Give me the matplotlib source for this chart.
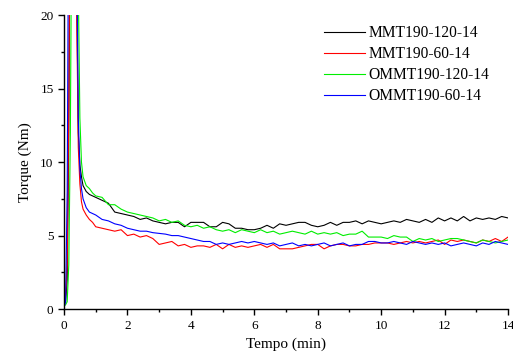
import numpy as np
import matplotlib
matplotlib.use("Agg")
import matplotlib.pyplot as plt
from matplotlib.ticker import MultipleLocator

plt.rcParams['font.family'] = ['Liberation Serif', 'DejaVu Serif']

labels = ["MMT190-120-14", "MMT190-60-14", "OMMT190-120-14", "OMMT190-60-14"]
colors = ["#000000", "#ff0000", "#00ee00", "#0000ff"]

t_early = [0, 0.05, 0.1, 0.15, 0.2, 0.25, 0.3, 0.35, 0.4, 0.45, 0.5, 0.55, 0.6, 0.7, 0.8, 0.9, 1.0]
t_late = list(np.round(np.arange(1.2, 14.01, 0.2), 2))

black_early = [0.3, 0.5, 2, 12, 30, 40, 40, 35, 22, 12, 9.8, 9.0, 8.4, 8.0, 7.8, 7.7, 7.6]
red_early = [0.5, 1, 3, 14, 30, 40, 40, 35, 20, 11, 8.5, 7.3, 6.8, 6.4, 6.1, 5.9, 5.6]
green_early = [0.2, 0.3, 0.5, 3, 12, 30, 40, 40, 35, 22, 13, 10, 9.0, 8.4, 8.2, 7.9, 7.7]
blue_early = [0.1, 0.5, 8, 30, 40, 40, 38, 32, 25, 13, 9.5, 8.2, 7.5, 6.9, 6.6, 6.5, 6.4]

black_late = [7.4, 7.2, 6.6, 6.5, 6.4, 6.3, 6.1, 6.2, 6.0, 5.9, 5.8, 5.9, 5.9, 5.6, 5.9, 5.9, 5.9, 5.6, 5.6, 5.9,
              5.8, 5.5, 5.5, 5.4, 5.4, 5.5, 5.7, 5.5, 5.8, 5.7, 5.8, 5.9, 5.9, 5.7, 5.6, 5.7, 5.9, 5.7, 5.9, 5.9,
              6.0, 5.8, 6.0, 5.9, 5.8, 5.9, 6.0, 5.9, 6.1, 6.0, 5.9, 6.1, 5.9, 6.2, 6.0, 6.2, 6.0, 6.3, 6.0, 6.2,
              6.1, 6.2, 6.1, 6.3, 6.2]
red_late = [5.5, 5.4, 5.3, 5.4, 5.0, 5.1, 4.9, 5.0, 4.8, 4.4, 4.5, 4.6, 4.3, 4.4, 4.2, 4.3, 4.3, 4.2, 4.4, 4.1,
            4.4, 4.2, 4.3, 4.2, 4.3, 4.4, 4.2, 4.4, 4.1, 4.1, 4.1, 4.2, 4.3, 4.4, 4.4, 4.1, 4.3, 4.4, 4.4, 4.3,
            4.3, 4.4, 4.4, 4.5, 4.5, 4.5, 4.4, 4.5, 4.6, 4.5, 4.6, 4.5, 4.6, 4.7, 4.4, 4.7, 4.6, 4.7, 4.6, 4.5,
            4.7, 4.6, 4.8, 4.6, 4.9]
green_late = [7.6, 7.1, 7.1, 6.8, 6.6, 6.5, 6.4, 6.3, 6.2, 6.0, 6.1, 5.9, 6.0, 5.7, 5.6, 5.7, 5.5, 5.6, 5.4, 5.3,
              5.4, 5.2, 5.4, 5.3, 5.2, 5.4, 5.2, 5.3, 5.1, 5.2, 5.3, 5.2, 5.1, 5.3, 5.1, 5.2, 5.1, 5.2, 5.0, 5.1,
              5.1, 5.3, 4.9, 4.9, 4.9, 4.8, 5.0, 4.9, 4.9, 4.6, 4.8, 4.7, 4.8, 4.6, 4.7, 4.8, 4.8, 4.7, 4.6, 4.5,
              4.7, 4.6, 4.5, 4.6, 4.7]
blue_late = [6.1, 6.0, 5.8, 5.7, 5.5, 5.4, 5.3, 5.3, 5.2, 5.15, 5.1, 5.0, 5.0, 4.9, 4.8, 4.7, 4.6, 4.6, 4.4, 4.5,
             4.4, 4.5, 4.6, 4.5, 4.6, 4.5, 4.4, 4.5, 4.3, 4.4, 4.5, 4.3, 4.4, 4.3, 4.4, 4.5, 4.3, 4.4, 4.5, 4.3,
             4.4, 4.4, 4.6, 4.6, 4.5, 4.5, 4.6, 4.5, 4.4, 4.6, 4.5, 4.4, 4.5, 4.4, 4.5, 4.3, 4.4, 4.5, 4.4, 4.3,
             4.5, 4.4, 4.6, 4.5, 4.4]

series = [black_early + black_late, red_early + red_late, green_early + green_late, blue_early + blue_late]
t = t_early + t_late

fig = plt.figure(figsize=(5.13, 3.59), dpi=100)
ax = fig.add_axes([0.1248, 0.139, 0.8655, 0.819])
for y, c, lab in zip(series, colors, labels):
    ax.plot(t, y[:len(t)], color=c, lw=0.8, label=lab)

ax.set_xlim(0, 14)
ax.set_ylim(0, 20)
ax.xaxis.set_major_locator(MultipleLocator(2))
ax.xaxis.set_minor_locator(MultipleLocator(1))
ax.yaxis.set_major_locator(MultipleLocator(5))
ax.yaxis.set_minor_locator(MultipleLocator(2.5))
for s in ['top', 'right']:
    ax.spines[s].set_visible(False)
for s in ['left', 'bottom']:
    ax.spines[s].set_linewidth(1.0)
ax.tick_params(which='major', direction='out', length=4, width=1.0, labelsize=9.5)
ax.tick_params(which='minor', direction='out', length=2.5, width=1.0)
ax.set_xlabel("Tempo (min)", fontsize=11, labelpad=4)
ax.set_ylabel("Torque (Nm)", fontsize=11, labelpad=6)
ax.legend(loc='upper left', bbox_to_anchor=(0.586, 0.966), frameon=False, fontsize=11.2,
          handlelength=2.6, handletextpad=0.27, labelspacing=0.32, borderpad=0.0, borderaxespad=0.0)
fig.savefig("out.png", dpi=100)
